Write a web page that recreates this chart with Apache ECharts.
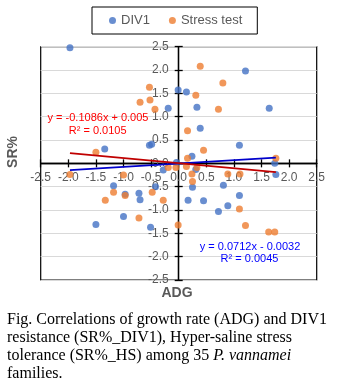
<!DOCTYPE html>
<html><head><meta charset="utf-8">
<script src="https://cdn.jsdelivr.net/npm/echarts@6/dist/echarts.min.js"></script>
<style>
html,body{margin:0;padding:0;background:#fff;}
#wrap{position:relative;width:339px;height:388px;overflow:hidden;}
#chart{position:absolute;left:0;top:0;width:339px;height:388px;}
#cap{position:absolute;left:7px;top:310px;width:332px;font-family:"Liberation Serif","Times New Roman",serif;font-size:16px;line-height:18px;color:#000;white-space:nowrap;}
</style></head>
<body><div id="wrap"><div id="chart"></div>
<div id="cap">Fig. Correlations of growth rate (ADG) and DIV1<br>resistance (SR%_DIV1), Hyper-saline stress<br>tolerance (SR%_HS) among 35 <i>P. vannamei</i><br>families.</div></div>
<script>
// ---- data ----
const seriesNames = ['DIV1', 'Stress test'];
const divX = [-1.97,-0.01,0.14,-0.19,0.33,1.21,1.64,0.39,1.10,-1.34,-0.53,-0.49,
  0.24,-0.04,-0.28,0.31,1.74,1.76,-1.18,-0.97,-0.72,-0.70,-0.42,0.25,0.81,1.10,0.17,0.45,0.72,0.89,-1.00,-1.50,-0.51];
const divY = [2.48,1.57,1.53,1.18,1.20,1.98,1.18,0.75,0.39,0.31,0.39,0.41,
  0.15,0.02,-0.14,-0.13,0.00,-0.24,-0.48,-0.66,-0.64,-0.78,-0.50,-0.51,-0.47,-0.69,-0.79,-0.80,-1.03,-0.91,-1.14,-1.31,-1.37];
const hsX = [0.39,0.80,-0.53,-0.70,-0.52,0.31,-0.43,0.72,0.16,0.45,
  -1.50,0.16,-1.97,-1.00,-0.19,-0.05,0.14,0.33,0.24,0.25,0.89,1.11,1.76,-1.18,-0.97,-1.33,-0.48,-0.28,-0.72,-0.01,1.10,1.21,1.63,1.74];
const hsY = [2.08,1.72,1.63,1.31,1.36,1.46,1.16,1.16,0.70,0.28,
  0.24,0.11,-0.24,-0.25,-0.09,-0.09,-0.07,-0.09,-0.23,-0.39,-0.23,-0.23,0.11,-0.62,-0.69,-0.79,-0.62,-0.79,-1.17,-1.32,-0.98,-1.33,-1.47,-1.47];
// trendline coefficients (from the equations shown)
const divSlope = 0.0712, divIntercept = -0.0032;
const hsSlope = -0.1086, hsIntercept = 0.005;
const divEq = ['y = 0.0712x - 0.0032', 'R² = 0.0045'];
const hsEq = ['y = -0.1086x + 0.005', 'R² = 0.0105'];
const axisMin = -2.5, axisMax = 2.5, axisStep = 0.5;
const xName = 'ADG', yName = 'SR%';

// ---- build ----
const zip = (a, b) => a.map((v, i) => [v, b[i]]);
const trend = (xs, m, c) => {
  const lo = Math.min(...xs), hi = Math.max(...xs);
  return [[lo, m * lo + c], [hi, m * hi + c]];
};
const gray = '#595959';
const fmt = v => v.toFixed(1);
const G = {left: 40.7, right: 22.3, top: 46.7, bottom: 108};
const W = 339, H = 388;
const chart = echarts.init(document.getElementById('chart'), null, {renderer: 'canvas'});
const baseAxis = {type: 'value', min: axisMin, max: axisMax, interval: axisStep};
const lineSty = {color: '#000', width: 1.3};
function axes(xOff, yOff) {
  return {
    xAxis: [
      Object.assign({}, baseAxis, {
        position: 'bottom', offset: xOff,
        axisLine: {onZero: false, lineStyle: lineSty},
        axisTick: {show: true, inside: false, length: 4, lineStyle: lineSty},
        axisLabel: {formatter: fmt, margin: 8, fontFamily: 'Liberation Sans, Arial', fontSize: 12, color: gray, showMinLabel: true, showMaxLabel: true},
        splitLine: {show: false}
      }),
      Object.assign({}, baseAxis, {
        position: 'bottom', offset: xOff,
        axisLine: {onZero: false, lineStyle: lineSty},
        axisTick: {show: true, inside: true, length: 4, lineStyle: lineSty},
        axisLabel: {show: false}, splitLine: {show: false}
      })
    ],
    yAxis: [
      Object.assign({}, baseAxis, {
        position: 'left', offset: yOff,
        axisLine: {onZero: false, lineStyle: lineSty},
        axisTick: {show: true, inside: false, length: 4, lineStyle: lineSty},
        axisLabel: {formatter: fmt, margin: 10, fontFamily: 'Liberation Sans, Arial', fontSize: 12, color: gray, showMinLabel: true, showMaxLabel: true},
        splitLine: {show: true, lineStyle: {color: '#D9D9D9', width: 1}}
      }),
      Object.assign({}, baseAxis, {
        position: 'left', offset: yOff,
        axisLine: {onZero: false, lineStyle: lineSty},
        axisTick: {show: true, inside: true, length: 4, lineStyle: lineSty},
        axisLabel: {show: false}, splitLine: {show: false}
      })
    ]
  };
}
const opt = Object.assign({
  backgroundColor: '#fff',
  animation: false,
  grid: {left: G.left, right: G.right, top: G.top, bottom: G.bottom, show: true, borderColor: '#000', borderWidth: 1.2, backgroundColor: '#fff'},
  legend: {
    data: seriesNames, left: 92, top: 7, padding: [7, 15, 7, 17], itemWidth: 7, itemHeight: 7, itemGap: 19,
    borderColor: '#000', borderWidth: 1, backgroundColor: '#fff',
    icon: 'circle',
    textStyle: {fontFamily: 'Liberation Sans, Arial', fontSize: 13, color: gray}
  },
  graphic: [
    {type: 'text', x: 13, y: 152, rotation: Math.PI / 2, style: {text: yName, fontFamily: 'Liberation Sans, Arial', fontWeight: 'bold', fontSize: 14, fill: gray, align: 'center', verticalAlign: 'middle'}},
    {type: 'text', x: 177, y: 293, style: {text: xName, fontFamily: 'Liberation Sans, Arial', fontWeight: 'bold', fontSize: 14, fill: gray, align: 'center', verticalAlign: 'middle'}},
    {type: 'text', x: 98, y: 118.3, z: 100, style: {text: hsEq[0], fontFamily: 'Liberation Sans, Arial', fontSize: 11, fill: '#FF0000', align: 'center', verticalAlign: 'middle'}},
    {type: 'text', x: 97.7, y: 130.5, z: 100, style: {text: hsEq[1], fontFamily: 'Liberation Sans, Arial', fontSize: 11, fill: '#FF0000', align: 'center', verticalAlign: 'middle'}},
    {type: 'text', x: 250, y: 246.7, z: 100, style: {text: divEq[0], fontFamily: 'Liberation Sans, Arial', fontSize: 11, fill: '#0000FF', align: 'center', verticalAlign: 'middle'}},
    {type: 'text', x: 249.5, y: 259, z: 100, style: {text: divEq[1], fontFamily: 'Liberation Sans, Arial', fontSize: 11, fill: '#0000FF', align: 'center', verticalAlign: 'middle'}}
  ],
  series: [
    {name: seriesNames[0], type: 'scatter', xAxisIndex: 0, yAxisIndex: 0, data: zip(divX, divY), symbolSize: 7, itemStyle: {color: '#4472C4'}, z: 3},
    {name: seriesNames[1], type: 'scatter', xAxisIndex: 0, yAxisIndex: 0, data: zip(hsX, hsY), symbolSize: 7, itemStyle: {color: '#ED7D31'}, z: 4},
    {name: 'DIV1 trend', type: 'line', xAxisIndex: 0, yAxisIndex: 0, data: trend(divX, divSlope, divIntercept), showSymbol: false, symbol: 'none', lineStyle: {color: '#0000CC', width: 1.8}, z: 5},
    {name: 'Stress trend', type: 'line', xAxisIndex: 0, yAxisIndex: 0, data: trend(hsX, hsSlope, hsIntercept), showSymbol: false, symbol: 'none', lineStyle: {color: '#C00000', width: 1.8}, z: 6}
  ]
}, axes(0, 0));
chart.setOption(opt);
// place the axis lines through the origin (Excel-style crossing axes)
const p0 = chart.convertToPixel({xAxisIndex: 0, yAxisIndex: 0}, [0, 0]);
const yOff = G.left - p0[0];
const xOff = p0[1] - (H - G.bottom);
chart.setOption(axes(xOff, yOff));
</script></body></html>
